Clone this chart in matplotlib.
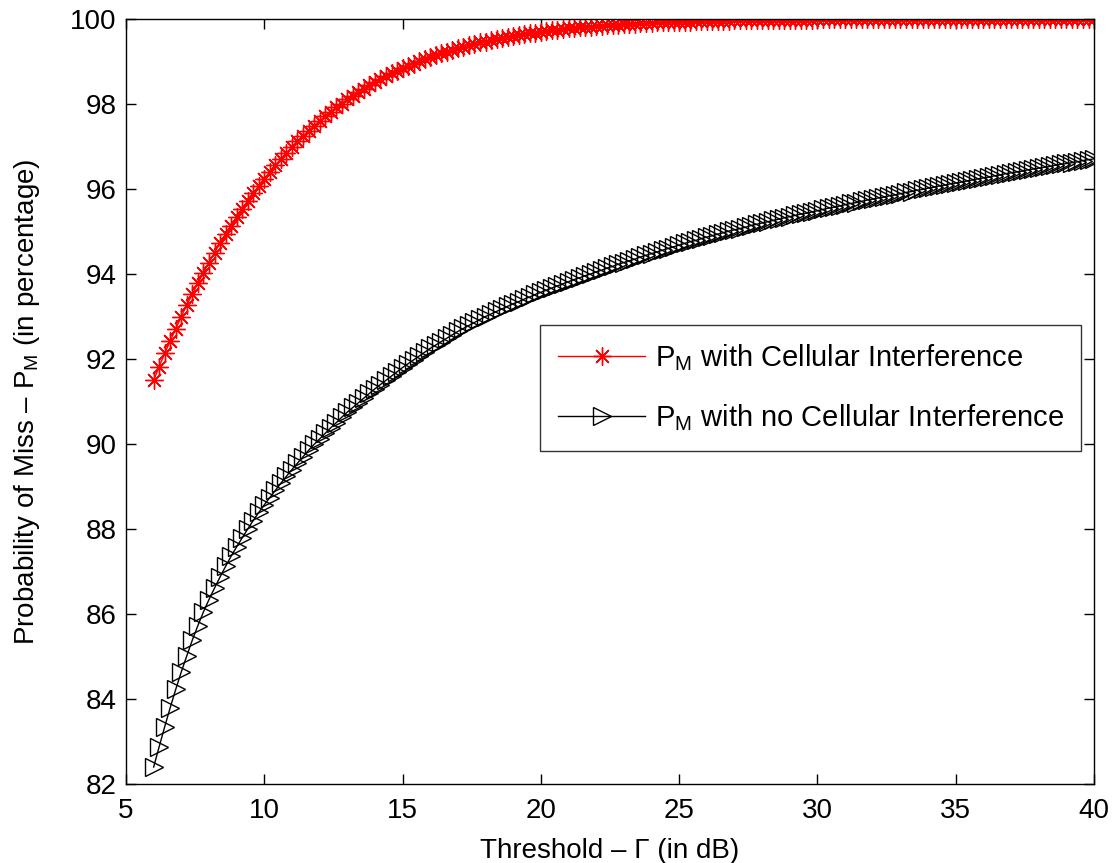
"""
plot.py - probability of miss vs detection threshold, with / without cellular interference.
"""
import numpy as np
import matplotlib
matplotlib.use("Agg")
import matplotlib.pyplot as plt

plt.rcParams["font.family"] = ["Liberation Sans", "DejaVu Sans"]
plt.rcParams["mathtext.fontset"] = "custom"
plt.rcParams["mathtext.rm"] = "Liberation Sans"

# threshold sweep (dB), 0.2 dB steps from 6 to 40
threshold_db = [
    6.0, 6.2, 6.4, 6.6, 6.8, 7.0, 7.2, 7.4, 7.6, 7.8,
    8.0, 8.2, 8.4, 8.6, 8.8, 9.0, 9.2, 9.4, 9.6, 9.8,
    10.0, 10.2, 10.4, 10.6, 10.8, 11.0, 11.2, 11.4, 11.6, 11.8,
    12.0, 12.2, 12.4, 12.6, 12.8, 13.0, 13.2, 13.4, 13.6, 13.8,
    14.0, 14.2, 14.4, 14.6, 14.8, 15.0, 15.2, 15.4, 15.6, 15.8,
    16.0, 16.2, 16.4, 16.6, 16.8, 17.0, 17.2, 17.4, 17.6, 17.8,
    18.0, 18.2, 18.4, 18.6, 18.8, 19.0, 19.2, 19.4, 19.6, 19.8,
    20.0, 20.2, 20.4, 20.6, 20.8, 21.0, 21.2, 21.4, 21.6, 21.8,
    22.0, 22.2, 22.4, 22.6, 22.8, 23.0, 23.2, 23.4, 23.6, 23.8,
    24.0, 24.2, 24.4, 24.6, 24.8, 25.0, 25.2, 25.4, 25.6, 25.8,
    26.0, 26.2, 26.4, 26.6, 26.8, 27.0, 27.2, 27.4, 27.6, 27.8,
    28.0, 28.2, 28.4, 28.6, 28.8, 29.0, 29.2, 29.4, 29.6, 29.8,
    30.0, 30.2, 30.4, 30.6, 30.8, 31.0, 31.2, 31.4, 31.6, 31.8,
    32.0, 32.2, 32.4, 32.6, 32.8, 33.0, 33.2, 33.4, 33.6, 33.8,
    34.0, 34.2, 34.4, 34.6, 34.8, 35.0, 35.2, 35.4, 35.6, 35.8,
    36.0, 36.2, 36.4, 36.6, 36.8, 37.0, 37.2, 37.4, 37.6, 37.8,
    38.0, 38.2, 38.4, 38.6, 38.8, 39.0, 39.2, 39.4, 39.6, 39.8,
    40.0,
]

# P_M (%) with cellular interference
pm_cellular = [
    91.50, 91.82, 92.13, 92.43, 92.71, 93.00, 93.27, 93.53, 93.78, 94.03,
    94.27, 94.50, 94.72, 94.93, 95.14, 95.34, 95.53, 95.72, 95.90, 96.07,
    96.24, 96.40, 96.56, 96.71, 96.85, 96.99, 97.12, 97.25, 97.37, 97.49,
    97.60, 97.71, 97.82, 97.92, 98.01, 98.11, 98.19, 98.28, 98.36, 98.44,
    98.51, 98.59, 98.65, 98.72, 98.78, 98.84, 98.90, 98.95, 99.01, 99.06,
    99.10, 99.15, 99.19, 99.23, 99.27, 99.31, 99.35, 99.38, 99.41, 99.45,
    99.47, 99.50, 99.53, 99.55, 99.58, 99.60, 99.62, 99.64, 99.66, 99.68,
    99.70, 99.72, 99.73, 99.75, 99.76, 99.78, 99.79, 99.80, 99.81, 99.82,
    99.83, 99.84, 99.85, 99.86, 99.87, 99.88, 99.89, 99.89, 99.90, 99.90,
    99.91, 99.92, 99.92, 99.92, 99.93, 99.94, 99.94, 99.94, 99.95, 99.95,
    99.95, 99.96, 99.96, 99.96, 99.96, 99.97, 99.97, 99.97, 99.97, 99.97,
    99.98, 99.98, 99.98, 99.98, 99.98, 99.98, 99.98, 99.98, 99.98, 99.98,
    99.99, 99.99, 99.99, 99.99, 99.99, 99.99, 99.99, 99.99, 99.99, 99.99,
    99.99, 99.99, 99.99, 99.99, 99.99, 100.0, 100.0, 100.0, 100.0, 100.0,
    100.0, 100.0, 100.0, 100.0, 100.0, 100.0, 100.0, 100.0, 100.0, 100.0,
    100.0, 100.0, 100.0, 100.0, 100.0, 100.0, 100.0, 100.0, 100.0, 100.0,
    100.0, 100.0, 100.0, 100.0, 100.0, 100.0, 100.0, 100.0, 100.0, 100.0,
    100.0,
]

# P_M (%) with no cellular interference
pm_no_cellular = [
    82.40, 82.88, 83.35, 83.80, 84.23, 84.64, 85.02, 85.39, 85.73, 86.05,
    86.34, 86.61, 86.87, 87.12, 87.36, 87.58, 87.79, 88.00, 88.20, 88.39,
    88.57, 88.74, 88.91, 89.08, 89.24, 89.40, 89.55, 89.70, 89.85, 89.99,
    90.12, 90.25, 90.38, 90.50, 90.63, 90.75, 90.86, 90.97, 91.08, 91.19,
    91.30, 91.40, 91.50, 91.60, 91.70, 91.80, 91.89, 91.98, 92.07, 92.16,
    92.25, 92.33, 92.41, 92.49, 92.57, 92.65, 92.72, 92.79, 92.86, 92.93,
    93.00, 93.06, 93.12, 93.18, 93.24, 93.30, 93.35, 93.41, 93.46, 93.52,
    93.57, 93.62, 93.67, 93.72, 93.77, 93.82, 93.87, 93.91, 93.96, 94.00,
    94.05, 94.09, 94.14, 94.18, 94.23, 94.27, 94.31, 94.35, 94.40, 94.44,
    94.48, 94.52, 94.56, 94.60, 94.64, 94.68, 94.72, 94.76, 94.79, 94.83,
    94.87, 94.90, 94.94, 94.97, 95.01, 95.04, 95.07, 95.10, 95.14, 95.17,
    95.20, 95.23, 95.26, 95.29, 95.32, 95.35, 95.38, 95.41, 95.43, 95.46,
    95.49, 95.52, 95.55, 95.57, 95.60, 95.63, 95.66, 95.68, 95.71, 95.74,
    95.76, 95.79, 95.81, 95.84, 95.86, 95.89, 95.92, 95.94, 95.97, 95.99,
    96.02, 96.04, 96.07, 96.09, 96.12, 96.14, 96.16, 96.19, 96.21, 96.24,
    96.26, 96.28, 96.31, 96.33, 96.36, 96.38, 96.40, 96.42, 96.45, 96.47,
    96.49, 96.51, 96.53, 96.56, 96.58, 96.60, 96.62, 96.64, 96.67, 96.69,
    96.71,
]

x_ticks = [5, 10, 15, 20, 25, 30, 35, 40]
y_ticks = [82, 84, 86, 88, 90, 92, 94, 96, 98, 100]

FS = 20
fig = plt.figure(figsize=(11.14, 8.63), dpi=100)
ax = fig.add_axes([0.1131, 0.0915, 0.869, 0.8865])

ax.plot(threshold_db, pm_cellular, color="red", lw=1.0, marker=(8, 2, 0),
        ms=13, mew=1.0, label=r"P$_\mathregular{M}$ with Cellular Interference")
ax.plot(threshold_db, pm_no_cellular, color="black", lw=1.0, marker=">",
        ms=13, mew=1.0, mfc="none", label=r"P$_\mathregular{M}$ with no Cellular Interference")

ax.set_xlim(5, 40); ax.set_ylim(82, 100)
ax.set_xticks(x_ticks); ax.set_yticks(y_ticks)
ax.tick_params(direction="in", length=7, width=1.0, labelsize=FS, top=True, right=True)
ax.tick_params(axis="x", pad=10)
ax.tick_params(axis="y", pad=7)
for s in ax.spines.values():
    s.set_linewidth(1.0)

ax.set_xlabel("Threshold – Γ (in dB)", fontsize=FS, labelpad=10)
ax.set_ylabel(r"Probability of Miss – P$_\mathregular{M}$ (in percentage)", fontsize=FS, labelpad=20)

leg = ax.legend(loc="upper left", bbox_to_anchor=(0.428, 0.600), fontsize=21, frameon=True,
                fancybox=False, edgecolor="black", handlelength=3.0, markerscale=1.0,
                borderpad=0.6, labelspacing=1.0, handletextpad=0.33, borderaxespad=0)
leg.get_frame().set_linewidth(1.0)

fig.savefig("out.png", dpi=100)
